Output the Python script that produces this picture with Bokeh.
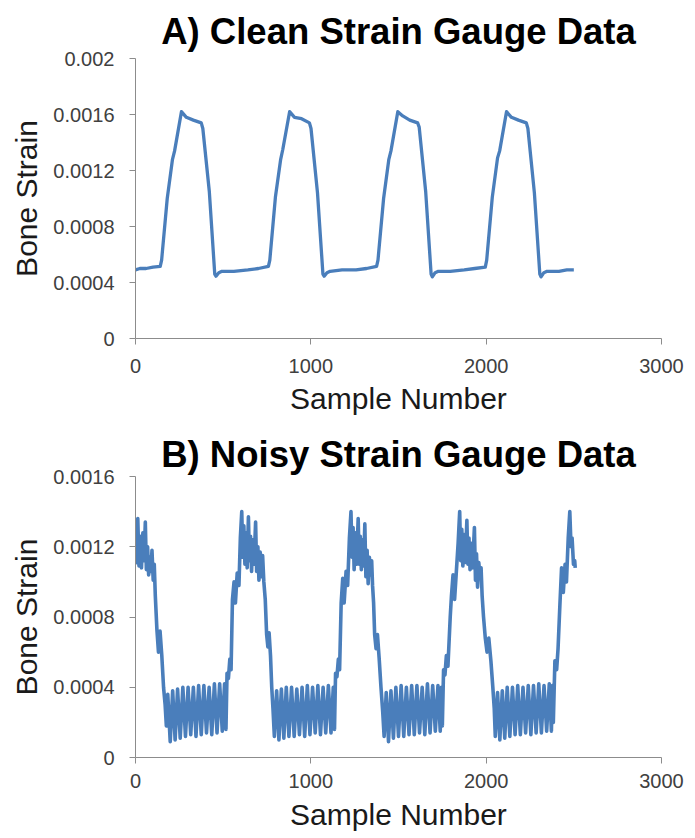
from bokeh.plotting import figure
from bokeh.layouts import column
from bokeh.models import FixedTicker, Range1d
from bokeh.embed import file_html
from bokeh.resources import INLINE

# ---------------- data ----------------
x_ticks = [0, 1000, 2000, 3000]
x_labels = ["0", "1000", "2000", "3000"]

a_y_ticks = [0, 0.0004, 0.0008, 0.0012, 0.0016, 0.002]
a_y_labels = ["0", "0.0004", "0.0008", "0.0012", "0.0016", "0.002"]

b_y_ticks = [0, 0.0004, 0.0008, 0.0012, 0.0016]
b_y_labels = ["0", "0.0004", "0.0008", "0.0012", "0.0016"]

clean_x = [0, 25, 60, 100, 141,
           149, 181, 211, 223, 262, 290, 330, 375, 384, 421, 452, 459, 475, 493, 561, 641, 701,
           758, 766, 798, 828, 840, 879, 907, 947, 992, 1001, 1038, 1069, 1076, 1092, 1110, 1178, 1258, 1318,
           1375, 1383, 1415, 1445, 1457, 1496, 1524, 1564, 1609, 1618, 1655, 1686, 1693, 1709, 1727, 1795, 1875, 1935,
           1995, 2003, 2035, 2065, 2077, 2116, 2144, 2184, 2229, 2238, 2275, 2306, 2313, 2329, 2347, 2415, 2460, 2500]
clean_y = [0.00049, 0.00050, 0.00050, 0.00051, 0.000515,
           0.00056, 0.00100, 0.00128, 0.00134, 0.00162, 0.00158, 0.00156, 0.00154, 0.00150, 0.00105, 0.00046, 0.000445, 0.00047, 0.00048, 0.00048, 0.00049, 0.00050,
           0.000515, 0.00056, 0.00101, 0.00128, 0.00135, 0.00162, 0.00158, 0.00157, 0.00154, 0.00150, 0.00104, 0.00046, 0.000445, 0.00047, 0.00048, 0.00049, 0.00049, 0.00050,
           0.000515, 0.00056, 0.00100, 0.00128, 0.00134, 0.00162, 0.00159, 0.00156, 0.00154, 0.00151, 0.00105, 0.00046, 0.00044, 0.00047, 0.00048, 0.00048, 0.00049, 0.00050,
           0.00051, 0.00056, 0.00101, 0.00129, 0.00134, 0.00162, 0.00158, 0.00156, 0.00154, 0.00150, 0.00104, 0.00046, 0.00044, 0.00047, 0.00048, 0.00048, 0.00049, 0.00049]

noisy_x = [0, 7, 13, 20, 27, 34, 42, 49, 56, 62, 69, 75, 82, 88, 94, 101, 107, 113, 122, 131, 140, 150, 160, 169,
           176, 184, 198, 212, 226, 240, 255, 270, 285, 300, 315, 330, 345, 360, 375, 390, 405, 420, 435, 450, 465, 480, 495, 508, 516,
           522, 530, 538, 545, 553, 562, 570, 580, 590, 598, 606,
           612, 618, 624, 631, 637, 644, 650, 656, 662, 669, 676, 685, 691, 698, 704, 711, 718, 725, 732,
           740, 748, 755, 762, 770, 777, 784,
           792, 805, 818, 832, 846, 860, 875, 890, 905, 920, 935, 950, 965, 980, 995, 1010, 1025, 1040, 1055, 1070, 1085, 1100, 1115, 1128, 1135,
           1141, 1149, 1157, 1164, 1173, 1182, 1190, 1201, 1210, 1220, 1229,
           1235, 1241, 1247, 1254, 1261, 1270, 1276, 1282, 1288, 1295, 1301, 1308, 1314, 1321, 1327, 1334, 1341, 1347, 1352,
           1358, 1364, 1372, 1380, 1390, 1400, 1410,
           1418, 1430, 1443, 1457, 1471, 1485, 1500, 1515, 1530, 1545, 1560, 1575, 1590, 1605, 1620, 1635, 1650, 1665, 1680, 1695, 1710, 1725, 1738, 1745, 1750,
           1757, 1765, 1773, 1782, 1795, 1802, 1811, 1820, 1830, 1840, 1849,
           1855, 1861, 1867, 1874, 1881, 1890, 1896, 1902, 1908, 1915, 1922, 1933, 1939, 1945, 1951, 1958, 1965, 1971, 1977,
           1985, 1995, 2005, 2015, 2027, 2038, 2046,
           2052, 2065, 2078, 2092, 2106, 2120, 2135, 2150, 2165, 2180, 2195, 2210, 2225, 2240, 2255, 2270, 2285, 2300, 2315, 2330, 2345, 2360, 2372, 2378, 2383,
           2392, 2402, 2410, 2421, 2430, 2440, 2450, 2458, 2468, 2477,
           2484, 2490, 2498, 2505, 2508]
noisy_y = [0.00110, 0.00130, 0.00136, 0.00109, 0.00126, 0.00108, 0.00128, 0.00112, 0.00134, 0.00107, 0.00120, 0.00104, 0.00114, 0.00106, 0.00118, 0.00101, 0.00110, 0.00092, 0.00073, 0.00060, 0.00072, 0.00058, 0.00040, 0.00030,
           0.00018, 0.00036, 0.00009, 0.00038, 0.00010, 0.00039, 0.00011, 0.00040, 0.00012, 0.00040, 0.00013, 0.00040, 0.00012, 0.00041, 0.00013, 0.00041, 0.00014, 0.00040, 0.00013, 0.00042, 0.00014, 0.00042, 0.00015, 0.00042, 0.00016,
           0.00048, 0.00045, 0.00056, 0.00050, 0.00090, 0.00100, 0.00088, 0.00105, 0.00098, 0.00125, 0.00140,
           0.00114, 0.00132, 0.00110, 0.00128, 0.00108, 0.00137, 0.00112, 0.00126, 0.00106, 0.00124, 0.00110, 0.00134, 0.00106, 0.00120, 0.00101, 0.00117, 0.00103, 0.00115, 0.00100,
           0.00090, 0.00070, 0.00063, 0.00071, 0.00058, 0.00040, 0.00028,
           0.00012, 0.00038, 0.00010, 0.00039, 0.00011, 0.00040, 0.00012, 0.00040, 0.00012, 0.00039, 0.00013, 0.00040, 0.00012, 0.00041, 0.00013, 0.00040, 0.00014, 0.00041, 0.00013, 0.00040, 0.00014, 0.00041, 0.00014, 0.00040, 0.00016,
           0.00048, 0.00046, 0.00056, 0.00050, 0.00088, 0.00102, 0.00088, 0.00106, 0.00098, 0.00125, 0.00140,
           0.00114, 0.00131, 0.00107, 0.00128, 0.00110, 0.00136, 0.00110, 0.00126, 0.00107, 0.00124, 0.00109, 0.00133, 0.00103, 0.00118, 0.00099, 0.00114, 0.00104, 0.00112, 0.00098,
           0.00088, 0.00070, 0.00062, 0.00070, 0.00056, 0.00040, 0.00026,
           0.00012, 0.00037, 0.00009, 0.00038, 0.00011, 0.00040, 0.00012, 0.00041, 0.00012, 0.00040, 0.00013, 0.00041, 0.00013, 0.00041, 0.00014, 0.00040, 0.00013, 0.00042, 0.00014, 0.00041, 0.00015, 0.00041, 0.00015, 0.00040, 0.00018,
           0.00050, 0.00047, 0.00058, 0.00052, 0.00080, 0.00092, 0.00104, 0.00090, 0.00106, 0.00122, 0.00140,
           0.00112, 0.00130, 0.00109, 0.00127, 0.00111, 0.00135, 0.00110, 0.00125, 0.00107, 0.00122, 0.00108, 0.00131, 0.00101, 0.00116, 0.00097, 0.00111, 0.00103, 0.00108, 0.00092,
           0.00080, 0.00068, 0.00060, 0.00068, 0.00055, 0.00040, 0.00028,
           0.00012, 0.00037, 0.00010, 0.00038, 0.00011, 0.00040, 0.00012, 0.00040, 0.00013, 0.00041, 0.00013, 0.00040, 0.00014, 0.00041, 0.00013, 0.00041, 0.00014, 0.00042, 0.00014, 0.00041, 0.00015, 0.00042, 0.00015, 0.00041, 0.00020,
           0.00055, 0.00050, 0.00062, 0.00088, 0.00108, 0.00094, 0.00110, 0.00100, 0.00125, 0.00140,
           0.00120, 0.00125, 0.00110, 0.00112, 0.00108]

LINE = "#4a7ebb"
AXIS = "#8c8c8c"
FONT = "Liberation Sans"


def make(title, ymax, yticks, ylabels, height, left, frame_w, top, bottom, xs, ys, lw,
         title_standoff, tick_standoff, label_standoff):
    p = figure(width=690, height=height, x_range=Range1d(0, 3000), y_range=Range1d(0, ymax),
               output_backend="svg", toolbar_location=None,
               min_border_left=left, min_border_right=690 - left - frame_w,
               min_border_top=top, min_border_bottom=bottom)
    p.line(xs, ys, line_color=LINE, line_width=lw, line_join="round")
    p.title.text = title
    p.title.text_font = FONT
    p.title.text_font_size = "36.5px"
    p.title.text_font_style = "bold"
    p.title.text_color = "#000000"
    p.title.align = "center"
    p.title.standoff = title_standoff
    p.xgrid.visible = False
    p.ygrid.visible = False
    p.outline_line_color = None
    p.xaxis.ticker = FixedTicker(ticks=x_ticks)
    p.xaxis.major_label_overrides = dict(zip(x_ticks, x_labels))
    p.yaxis.ticker = FixedTicker(ticks=yticks)
    p.yaxis.major_label_overrides = dict(zip(yticks, ylabels))
    p.xaxis.axis_label = "Sample Number"
    p.yaxis.axis_label = "Bone Strain"
    for ax in (p.xaxis, p.yaxis):
        ax.axis_line_color = AXIS
        ax.major_tick_line_color = AXIS
        ax.minor_tick_line_color = None
        ax.major_tick_in = 0
        ax.major_tick_out = 6
        ax.major_label_text_font = FONT
        ax.major_label_text_font_size = "20px"
        ax.major_label_text_color = "#404040"
        ax.axis_label_text_font = FONT
        ax.axis_label_text_font_size = "30px"
        ax.axis_label_text_font_style = "normal"
        ax.axis_label_text_color = "#1a1a1a"
    p.xaxis.major_label_standoff = tick_standoff
    p.xaxis.axis_label_standoff = label_standoff
    p.yaxis.major_label_standoff = 15
    p.yaxis.axis_label_standoff = 7
    return p


pa = make("A) Clean Strain Gauge Data", 0.002, a_y_ticks, a_y_labels,
          426, 133, 528, 58, 88, clean_x, clean_y, 3.3, 14, 14, 6)
pb = make("B) Noisy Strain Gauge Data", 0.0016, b_y_ticks, b_y_labels,
          411, 135, 533, 50, 80, noisy_x, noisy_y, 3.6, 4, 10, 7)

layout = column(pa, pb, spacing=0)
open("out.html", "w").write(file_html(layout, INLINE))
